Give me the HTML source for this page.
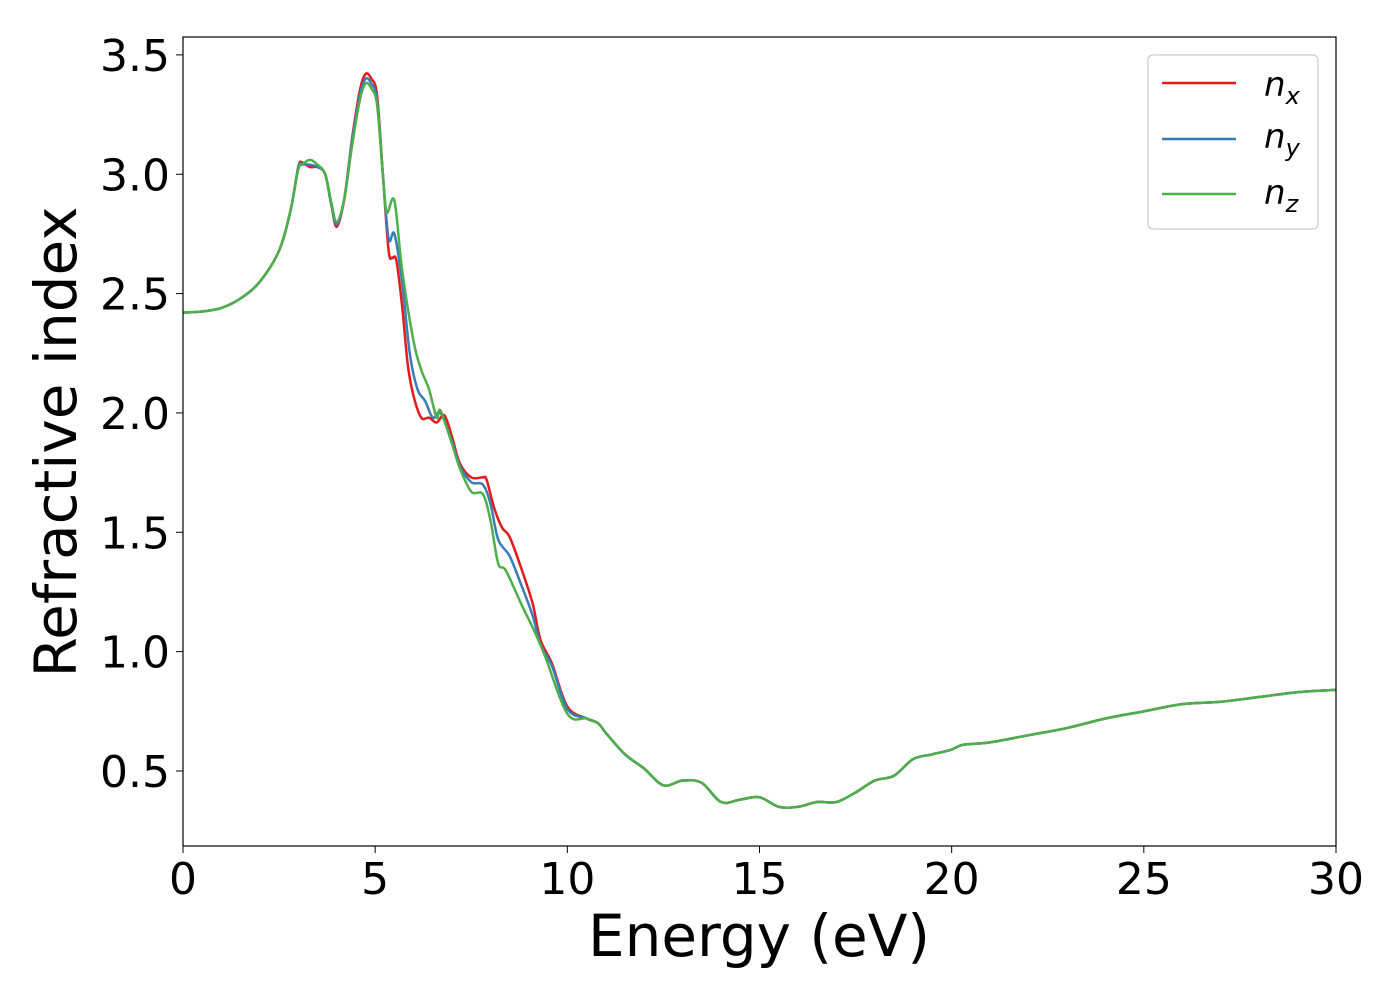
<!DOCTYPE html>
<html><head><meta charset="utf-8"><style>
body{margin:0;background:#fff}
svg text{font-family:"DejaVu Sans","Liberation Sans",sans-serif;fill:#000}
</style></head><body>
<svg width="1400" height="1000" id="chart">
<rect x="0" y="0" width="1400" height="1000" fill="#fff"/>
<g id="plot"></g>
<rect x="183" y="37" width="1153" height="809" fill="none" stroke="#000" stroke-width="1.2"/>
<g id="xt"></g><g id="yt"></g>
<text x="759" y="956" font-size="58" text-anchor="middle">Energy (eV)</text>
<text transform="translate(76,442) rotate(-90)" font-size="58" text-anchor="middle">Refractive index</text>
<g>
<rect x="1148" y="55" width="170" height="174" rx="5" fill="#fff" stroke="#ccc" stroke-width="1.2"/>
<line x1="1162" y1="83" x2="1236" y2="83" stroke="#e41a1c" stroke-width="2.5"/>
<text x="1264" y="96" font-size="34" font-style="italic">n<tspan font-size="24" dy="8">x</tspan></text>
<line x1="1162" y1="139" x2="1236" y2="139" stroke="#377eb8" stroke-width="2.5"/>
<text x="1264" y="148" font-size="34" font-style="italic">n<tspan font-size="24" dy="8">y</tspan></text>
<line x1="1162" y1="194" x2="1236" y2="194" stroke="#4daf4a" stroke-width="2.5"/>
<text x="1264" y="204" font-size="34" font-style="italic">n<tspan font-size="24" dy="8">z</tspan></text>
</g>
</svg>
<script>
const xTicks=[0,5,10,15,20,25,30];
const yTicks=["0.5","1.0","1.5","2.0","2.5","3.0","3.5"];
const common=[[10.5,0.72],[10.8,0.70],[11,0.66],[11.5,0.57],[12,0.51],[12.5,0.44],[13,0.46],[13.5,0.45],[14,0.37],[14.5,0.38],[15,0.39],[15.5,0.35],[16,0.35],[16.5,0.37],[17,0.37],[17.5,0.41],[18,0.46],[18.5,0.48],[19,0.55],[19.5,0.57],[20,0.59],[20.3,0.61],[21,0.62],[22,0.65],[23,0.68],[24,0.72],[25,0.75],[26,0.78],[27,0.79],[28,0.81],[29,0.83],[30,0.84]];
const nxE=[0,0.5,1,1.5,2,2.5,2.8,3.0,3.1,3.3,3.5,3.7,3.85,4.0,4.2,4.4,4.6,4.75,4.9,5.05,5.2,5.35,5.45,5.55,5.7,5.85,6.0,6.2,6.4,6.6,6.8,7.0,7.2,7.5,7.8,7.9,8.1,8.3,8.5,8.8,9.1,9.3,9.6,10];
const nxV=[2.42,2.425,2.44,2.48,2.55,2.68,2.85,3.03,3.05,3.03,3.03,3.0,2.88,2.78,2.9,3.15,3.35,3.42,3.40,3.33,3.0,2.68,2.65,2.64,2.45,2.2,2.07,1.98,1.98,1.96,1.99,1.9,1.79,1.73,1.73,1.72,1.6,1.52,1.48,1.35,1.2,1.05,0.95,0.77];
const nyE=[0,0.5,1,1.5,2,2.5,2.8,3.0,3.1,3.3,3.5,3.7,3.85,4.0,4.2,4.4,4.6,4.75,4.9,5.05,5.2,5.35,5.5,5.7,5.9,6.1,6.3,6.5,6.7,7.0,7.2,7.5,7.8,8.0,8.2,8.5,8.8,9.1,9.3,9.6,10];
const nyV=[2.42,2.425,2.44,2.48,2.55,2.68,2.85,3.03,3.04,3.04,3.03,3.0,2.88,2.79,2.9,3.14,3.33,3.40,3.38,3.31,3.0,2.73,2.75,2.55,2.25,2.1,2.05,1.98,2.0,1.88,1.78,1.71,1.70,1.62,1.47,1.4,1.28,1.15,1.03,0.94,0.76];
const nzE=[0,0.5,1,1.5,2,2.5,2.8,3.0,3.1,3.3,3.5,3.7,3.85,4.0,4.2,4.4,4.6,4.75,4.9,5.05,5.2,5.3,5.5,5.7,6.0,6.2,6.4,6.6,6.7,7.0,7.2,7.5,7.8,8.0,8.2,8.4,8.8,9.1,9.4,10];
const nzV=[2.42,2.425,2.44,2.48,2.55,2.68,2.85,3.02,3.04,3.06,3.04,3.0,2.89,2.80,2.9,3.12,3.31,3.38,3.36,3.29,3.0,2.84,2.89,2.6,2.3,2.18,2.1,1.98,2.01,1.87,1.77,1.67,1.66,1.55,1.37,1.34,1.2,1.1,0.99,0.74];
const X=v=>183+v*1153/30, Y=v=>771-(v-0.5)*238.7;
const ns="http://www.w3.org/2000/svg";
const plot=document.getElementById('plot');
function series(E,V,color,name){
  const pts=E.map((e,i)=>[e,V[i]]).concat(common.map(p=>[p[0],p[1]]));
  const P=pts.map(p=>[X(p[0]),Y(p[1])]);
  let d="M"+P[0][0]+","+P[0][1];
  for(let i=0;i<P.length-1;i++){
    const p0=P[i-1]||P[i],p1=P[i],p2=P[i+1],p3=P[i+2]||p2;
    const c1=[p1[0]+(p2[0]-p0[0])/6,p1[1]+(p2[1]-p0[1])/6];
    const c2=[p2[0]-(p3[0]-p1[0])/6,p2[1]-(p3[1]-p1[1])/6];
    d+=` C${c1[0]},${c1[1]} ${c2[0]},${c2[1]} ${p2[0]},${p2[1]}`;
  }
  const el=document.createElementNS(ns,'path');
  el.setAttribute('d',d);el.setAttribute('fill','none');el.setAttribute('stroke',color);el.setAttribute('stroke-width','2.5');
  
  
  plot.appendChild(el);
}
series(nxE,nxV,'#e41a1c','series-nx');
series(nyE,nyV,'#377eb8','series-ny');
series(nzE,nzV,'#4daf4a','series-nz');
const xt=document.getElementById('xt');
xTicks.forEach(t=>{
  const l=document.createElementNS(ns,'line');
  l.setAttribute('x1',X(t));l.setAttribute('x2',X(t));l.setAttribute('y1',846);l.setAttribute('y2',853);l.setAttribute('stroke','#000');
  
  
  xt.appendChild(l);
  const s=document.createElementNS(ns,'text');
  s.setAttribute('x',X(t));s.setAttribute('y',894);s.setAttribute('font-size','44');s.setAttribute('text-anchor','middle');
  s.textContent=t;
  
  
  xt.appendChild(s);
});
const yt=document.getElementById('yt');
yTicks.forEach(t=>{
  const v=parseFloat(t);
  const l=document.createElementNS(ns,'line');
  l.setAttribute('x1',176);l.setAttribute('x2',183);l.setAttribute('y1',Y(v));l.setAttribute('y2',Y(v));l.setAttribute('stroke','#000');
  
  
  yt.appendChild(l);
  const s=document.createElementNS(ns,'text');
  s.setAttribute('x',170);s.setAttribute('y',Y(v)+16);s.setAttribute('font-size','44');s.setAttribute('text-anchor','end');
  s.textContent=t;
  
  
  yt.appendChild(s);
});
</script>
</body></html>
